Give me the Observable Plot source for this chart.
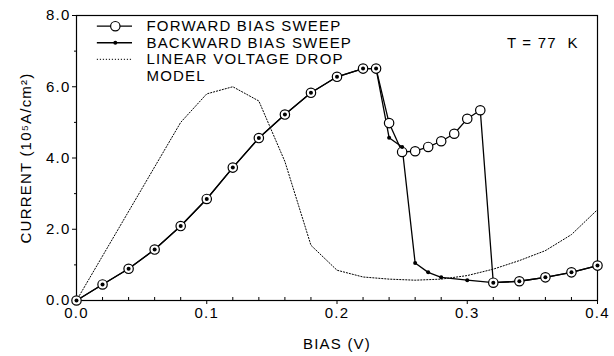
<!DOCTYPE html>
<html><head><meta charset="utf-8">
<script src="https://cdn.jsdelivr.net/npm/d3@7"></script>
<script src="https://cdn.jsdelivr.net/npm/@observablehq/plot@0.6"></script>
<style>body{margin:0;background:#fff}</style>
</head><body><div id="chart"></div>
<script>
// Forward bias sweep (open circles)
const forwardBias = [0,0.02,0.04,0.06,0.08,0.10,0.12,0.14,0.16,0.18,0.20,0.22,0.23,0.24,0.25,0.26,0.27,0.28,0.29,0.30,0.31,0.32,0.34,0.36,0.38,0.40];
const forwardCurrent = [0,0.45,0.89,1.43,2.09,2.85,3.73,4.56,5.22,5.83,6.28,6.51,6.51,4.98,4.17,4.19,4.31,4.47,4.68,5.10,5.34,0.50,0.54,0.65,0.79,0.98];
// Backward bias sweep (small filled dots)
const backwardBias = [0,0.02,0.04,0.06,0.08,0.10,0.12,0.14,0.16,0.18,0.20,0.22,0.23,0.24,0.25,0.26,0.27,0.28,0.30,0.32,0.34,0.36,0.38,0.40];
const backwardCurrent = [0,0.45,0.89,1.43,2.09,2.85,3.73,4.56,5.22,5.83,6.28,6.51,6.51,4.57,4.31,1.05,0.79,0.65,0.57,0.50,0.54,0.65,0.79,0.98];
// Linear voltage drop model (dotted)
const modelBias = [0,0.08,0.10,0.12,0.14,0.16,0.18,0.20,0.22,0.24,0.26,0.28,0.30,0.32,0.34,0.36,0.38,0.40];
const modelCurrent = [0,5.0,5.8,6.0,5.6,3.9,1.55,0.85,0.66,0.60,0.57,0.60,0.70,0.88,1.12,1.40,1.85,2.55];
// Ticks and labels
const xMajorTicks = [0,0.1,0.2,0.3,0.4];
const xMinorTicks = [0.02,0.04,0.06,0.08,0.12,0.14,0.16,0.18,0.22,0.24,0.26,0.28,0.32,0.34,0.36,0.38];
const yMajorTicks = [0,2,4,6,8];
const yMinorTicks = [1,3,5,7];
const legendLabels = ["FORWARD BIAS SWEEP","BACKWARD BIAS SWEEP","LINEAR VOLTAGE DROP","MODEL"];
const tempLabel = ["T = 77  K"];
const xLabel = "BIAS (V)";
const yLabel = "CURRENT (10⁵A/cm²)";

const fwd = forwardBias.map((x,i)=>({x, y: forwardCurrent[i]}));
const bwd = backwardBias.map((x,i)=>({x, y: backwardCurrent[i]}));
const mdl = modelBias.map((x,i)=>({x, y: modelCurrent[i]}));

const legTop = 7.70, legStep = 0.465;
const rowY = i => legTop - i*legStep;

const chart = Plot.plot({
  width: 614, height: 356,
  marginLeft: 76, marginRight: 17, marginTop: 15, marginBottom: 56,
  style: {fontFamily: "'Liberation Sans', Arial, sans-serif", fontSize: "15px", letterSpacing: "1.2px", color: "#000", background: "#fff", overflow: "visible"},
  x: {domain: [0, 0.4]},
  y: {domain: [0, 8]},
  marks: [
    Plot.frame({stroke: "#000", strokeWidth: 1.2}),
    Plot.axisX({ticks: xMajorTicks, tickFormat: d3.format(".1f"), tickSize: 4, tickPadding: 3, label: xLabel, labelAnchor: "center", labelArrow: "none", labelOffset: 48}),
    Plot.axisX({ticks: xMinorTicks, tickSize: -3, tickFormat: () => "", label: null}),
    Plot.axisY({ticks: yMajorTicks, tickFormat: d3.format(".1f"), tickSize: 4, tickPadding: 2, label: yLabel, labelAnchor: "center", labelArrow: "none", labelOffset: 56}),
    Plot.axisY({ticks: yMinorTicks, tickSize: 2, tickFormat: () => "", label: null}),
    Plot.line(mdl, {x: "x", y: "y", stroke: "#000", strokeWidth: 1, strokeDasharray: "1.2,1.8"}),
    Plot.line(fwd, {x: "x", y: "y", stroke: "#000", strokeWidth: 1.3}),
    Plot.line(bwd, {x: "x", y: "y", stroke: "#000", strokeWidth: 1.3}),
    Plot.dot(fwd, {x: "x", y: "y", r: 4.7, fill: "#fff", stroke: "#000", strokeWidth: 1.2}),
    Plot.dot(bwd, {x: "x", y: "y", r: 2, fill: "#000"}),
    // legend
    Plot.ruleY([rowY(0)], {x1: 0.016, x2: 0.043, stroke: "#000", strokeWidth: 1.3}),
    Plot.dot([rowY(0)], {x: 0.0298, y: d => d, r: 4.7, fill: "#fff", stroke: "#000", strokeWidth: 1.2}),
    Plot.ruleY([rowY(1)], {x1: 0.016, x2: 0.043, stroke: "#000", strokeWidth: 1.3}),
    Plot.dot([rowY(1)], {x: 0.0298, y: d => d, r: 2, fill: "#000"}),
    Plot.ruleY([rowY(2)], {x1: 0.016, x2: 0.043, stroke: "#000", strokeWidth: 1, strokeDasharray: "1.2,1.8"}),
    Plot.text(legendLabels, {x: 0.0537, y: (d,i) => rowY(i), text: d => d, textAnchor: "start", fill: "#000"}),
    Plot.text(tempLabel, {x: 0.358, y: rowY(1), text: d => d, fill: "#000"})
  ]
});
document.getElementById("chart").appendChild(chart);
</script>
</body></html>
